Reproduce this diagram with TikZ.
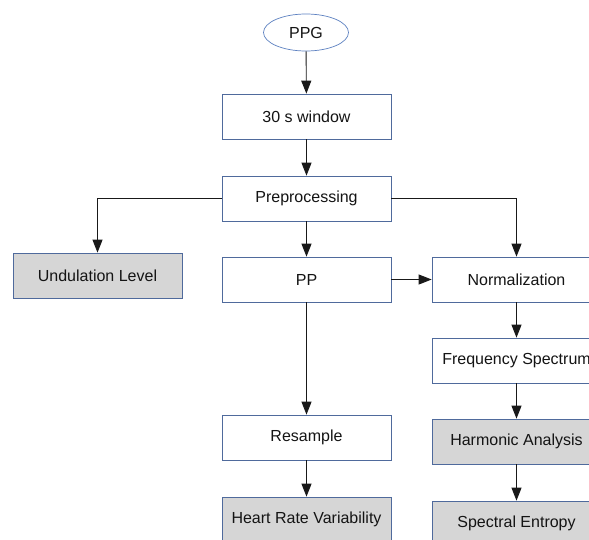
\documentclass[tikz,border=0pt]{standalone}
\usepackage{fontspec}
\setmainfont{Liberation Sans}
\usetikzlibrary{arrows.meta,shapes.geometric}
\definecolor{edgeblue}{HTML}{4F6A9C}
\definecolor{ovalblue}{HTML}{5C80C0}
\definecolor{resgray}{HTML}{D6D6D6}
\definecolor{txt}{HTML}{141414}
\begin{document}
\begin{tikzpicture}[x=1pt,y=-1pt,
		box/.style={draw=edgeblue,fill=white,line width=0.7pt,minimum width=169pt,minimum height=45pt,inner sep=0pt,text=txt,font=\fontsize{16}{18}\selectfont},
		resbox/.style={box,fill=resgray},
		arr/.style={-{Triangle[width=10pt,length=13pt]},line width=0.9pt,draw=black!90}]
			\useasboundingbox (0,0) rectangle (589,539);
			\clip (0,0) rectangle (589,539);
			\node[ellipse,draw=ovalblue,line width=0.7pt,minimum width=85pt,minimum height=37pt,inner sep=0pt,text=txt,font=\fontsize{16}{18}\selectfont] (ppg) at (306,32.5) {PPG};
			\node[box] (win) at (306.5,116.5) {30 s window};
			\node[box] (pre) at (306.5,198.5) {Preprocessing};
			\node[resbox] (und) at (97.5,275.5) {Undulation Level};
			\node[box] (pp) at (306.5,279.5) {PP};
			\node[box] (norm) at (516.5,279.5) {Normalization};
			\node[box] (freq) at (516.5,360.5) {Frequency Spectrum};
			\node[resbox] (harm) at (516.5,441.5) {Harmonic Analysis};
			\node[resbox] (ent) at (516.5,523.5) {Spectral Entropy};
			\node[box] (res) at (306.5,437.5) {Resample};
			\node[resbox] (hrv) at (306.5,519.5) {Heart Rate Variability};
			\draw[arr] (ppg) -- (win);
			\draw[arr] (win) -- (pre);
			\draw[arr] (pre.west) -| (und.north);
			\draw[arr] (pre) -- (pp);
			\draw[arr] (pre.east) -| (norm.north);
			\draw[arr] (pp) -- (norm);
			\draw[arr] (pp) -- (res);
			\draw[arr] (res) -- (hrv);
			\draw[arr] (norm) -- (freq);
			\draw[arr] (freq) -- (harm);
			\draw[arr] (harm) -- (ent);
		\end{tikzpicture}
\end{document}
